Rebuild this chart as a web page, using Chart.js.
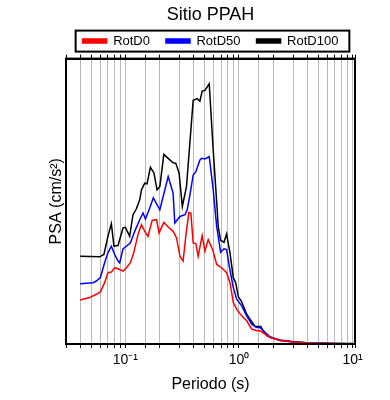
<!DOCTYPE html>
<html>
<head>
<meta charset="utf-8">
<script src="https://cdn.jsdelivr.net/npm/chart.js@4.4.1/dist/chart.umd.min.js"></script>
<style>
  body { margin: 0; background: #fff; }
  #wrap { width: 390px; height: 400px; }
</style>
</head>
<body>
<div id="wrap"><canvas id="ch" width="390" height="400"></canvas></div>
<script>
// periods (s) and PSA (arbitrary linear units, bottom = 0)
const periodsRotD0 = [0.04, 0.0484, 0.0555, 0.0602, 0.0656, 0.0702, 0.0752, 0.0805, 0.0861, 0.0953, 0.102, 0.1107, 0.1184, 0.129, 0.1384, 0.148, 0.158, 0.172, 0.188, 0.198, 0.218, 0.238, 0.263, 0.282, 0.302, 0.322, 0.34, 0.362, 0.377, 0.395, 0.417, 0.437, 0.474, 0.501, 0.536, 0.586, 0.636, 0.703, 0.778, 0.833, 0.891, 0.954, 1.056, 1.169, 1.295, 1.433, 1.531, 1.695, 1.877, 2.3, 3.02, 4.24, 6.8, 10];
const valuesRotD0 = [44.3, 46.7, 50, 52.3, 61.7, 71.7, 72.3, 76.7, 75.7, 73.3, 76.7, 81.7, 91.7, 110, 120, 113.3, 108.3, 124.3, 125, 111.7, 122.3, 117.7, 113.3, 106.7, 88.3, 83.3, 108.3, 132.3, 131.7, 101.7, 101, 88.3, 109, 93.3, 105, 95, 80, 76.7, 71.7, 61.7, 41.7, 35, 28.3, 23.3, 15, 13.3, 13.3, 10, 6.7, 3.5, 2, 1, 0.5, 0.3];

const periodsRotD50 = [0.04, 0.0518, 0.0555, 0.0602, 0.0656, 0.0702, 0.0752, 0.0805, 0.0861, 0.0891, 0.0953, 0.102, 0.1107, 0.1208, 0.1337, 0.143, 0.15, 0.164, 0.176, 0.201, 0.238, 0.263, 0.272, 0.302, 0.334, 0.35, 0.37, 0.395, 0.417, 0.453, 0.469, 0.501, 0.547, 0.593, 0.636, 0.689, 0.738, 0.778, 0.821, 0.891, 0.954, 1.056, 1.169, 1.295, 1.433, 1.531, 1.695, 1.877, 2.3, 3.02, 4.24, 6.8, 10];
const valuesRotD50 = [60.7, 61.7, 63.3, 66.7, 81.7, 91.7, 98.3, 90, 83.3, 81.7, 95.7, 98.3, 101.7, 113.3, 125, 131.7, 125.7, 136.7, 147, 135, 168.3, 151.7, 121.7, 128.3, 130, 135, 150, 170, 173.3, 185, 186.7, 186, 188.3, 155, 118.3, 92.3, 95.7, 95, 78.3, 56.7, 45, 38.3, 28.3, 20, 16.7, 16.7, 11.7, 7.3, 3.5, 2, 1, 0.5, 0.3];

const periodsRotD100 = [0.04, 0.0593, 0.0647, 0.0702, 0.0752, 0.0793, 0.0861, 0.0953, 0.1, 0.109, 0.1167, 0.125, 0.1337, 0.1384, 0.148, 0.155, 0.166, 0.178, 0.19, 0.201, 0.218, 0.238, 0.263, 0.278, 0.297, 0.317, 0.345, 0.395, 0.428, 0.453, 0.474, 0.501, 0.547, 0.593, 0.643, 0.656, 0.689, 0.738, 0.778, 0.833, 0.891, 0.935, 0.986, 1.056, 1.169, 1.25, 1.384, 1.555, 1.637, 1.755, 1.943, 2.3, 3.02, 4.24, 6.8, 10];
const valuesRotD100 = [88.3, 87.7, 90, 108.3, 121, 98.3, 99, 116.7, 117.3, 108.3, 130, 136, 145, 155, 161.7, 161, 177.7, 172.3, 155, 158.3, 190.7, 186.7, 182.3, 181.7, 171.7, 138.3, 158.3, 245, 246.7, 244.3, 254.3, 255, 261.7, 195, 135, 118.3, 104.3, 102.3, 110.7, 91.7, 66.7, 61.7, 47.7, 42.3, 30, 25, 17.7, 17.7, 13.3, 8.3, 6, 4, 2.3, 1, 0.6, 0.4];

const seriesNames = ['RotD0', 'RotD50', 'RotD100'];
const seriesColors = ['#ff0000', '#0000ff', '#000000'];
const seriesPeriods = [periodsRotD0, periodsRotD50, periodsRotD100];
const seriesValues = [valuesRotD0, valuesRotD50, valuesRotD100];

const xMin = 0.03, xMax = 10.5;
const yMin = 0, yMax = 287;
const tickLabels = { '0.1': '10\u207B\u00B9', '1': '10\u2070', '10': '10\u00B9' };

const FONT = '"Liberation Sans", Arial, Helvetica, sans-serif';

const datasets = seriesNames.map((name, i) => ({
  label: name,
  data: seriesPeriods[i].map((p, j) => ({ x: p, y: seriesValues[i][j] })),
  borderColor: seriesColors[i],
  backgroundColor: seriesColors[i],
  borderWidth: 1.5,
  pointRadius: 0,
  tension: 0
}));

// box around the legend and around the plot area
const frames = {
  id: 'frames',
  afterDraw(chart) {
    const ctx = chart.ctx;
    const a = chart.chartArea;
    ctx.save();
    ctx.strokeStyle = '#000';
    ctx.lineWidth = 2;
    ctx.strokeRect(a.left, a.top, a.right - a.left, a.bottom - a.top);
    const boxes = chart.legend.legendHitBoxes;
    if (boxes && boxes.length) {
      let l = Infinity, r = -Infinity, t = Infinity, b = -Infinity;
      boxes.forEach(h => {
        l = Math.min(l, h.left); r = Math.max(r, h.left + h.width);
        t = Math.min(t, h.top); b = Math.max(b, h.top + h.height);
      });
      ctx.strokeRect(l - 7, t - 4, r - l + 18, b - t + 8);
    }
    ctx.restore();
  }
};

new Chart(document.getElementById('ch').getContext('2d'), {
  type: 'line',
  data: { datasets },
  options: {
    responsive: false,
    animation: false,
    events: [],
    layout: { padding: { left: 47, right: 35, top: 2, bottom: 6 } },
    plugins: {
      title: {
        display: true,
        fullSize: false,
        text: 'Sitio PPAH',
        color: '#000',
        font: { family: FONT, size: 18, weight: 'normal' },
        padding: { top: 2, bottom: -7 }
      },
      legend: {
        display: true,
        fullSize: false,
        position: 'top',
        labels: {
          color: '#000',
          font: { family: FONT, size: 13 },
          boxWidth: 24,
          boxHeight: 4,
          padding: 16
        }
      },
      tooltip: { enabled: false }
    },
    scales: {
      x: {
        type: 'logarithmic',
        position: 'bottom',
        min: xMin,
        max: xMax,
        border: { display: true, color: '#000', width: 2 },
        grid: { color: '#bbbbbb', lineWidth: 1, tickColor: '#000', tickLength: 4 },
        ticks: {
          autoSkip: false,
          maxRotation: 0,
          color: '#000',
          font: { family: FONT, size: 14 },
          padding: 4,
          callback: (v) => tickLabels[String(Number(v.toPrecision(6)))] || ''
        },
        title: {
          display: true,
          text: 'Periodo (s)',
          color: '#000',
          font: { family: FONT, size: 16 },
          padding: { top: 2, bottom: 0 }
        }
      },
      xTop: {
        type: 'logarithmic',
        position: 'top',
        min: xMin,
        max: xMax,
        border: { display: true, color: '#000', width: 2 },
        grid: { drawOnChartArea: false, tickColor: '#000', tickLength: 4 },
        ticks: { display: false, autoSkip: false },
        afterFit: (s) => { s.height = 1; }
      },
      y: {
        type: 'linear',
        min: yMin,
        max: yMax,
        border: { display: true, color: '#000', width: 2 },
        grid: { display: false },
        ticks: { display: false },
        title: {
          display: true,
          text: 'PSA (cm/s\u00B2)',
          color: '#000',
          font: { family: FONT, size: 16 },
          padding: { top: 0, bottom: 2 }
        },
        afterFit: (s) => { s.width = 19; }
      }
    }
  },
  plugins: [frames]
});
</script>
</body>
</html>
